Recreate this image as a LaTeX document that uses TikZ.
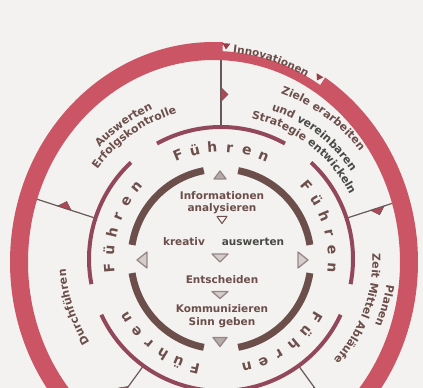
\documentclass[tikz,border=0pt]{standalone}
\usepackage{fontspec}
\setmainfont{DejaVu Sans}
\usetikzlibrary{
    calc, decorations.text
}
\definecolor{paper}{RGB}{243,242,240}
\definecolor{ringred}{RGB}{203,84,101}
\definecolor{midarc}{RGB}{146,72,90}
\definecolor{txtbrown}{RGB}{108,78,74}
\definecolor{slate}{RGB}{72,74,70}
\definecolor{linegrey}{RGB}{105,88,88}
\definecolor{trigrey}{RGB}{150,135,133}
\definecolor{trifill}{RGB}{212,205,203}
\definecolor{innov}{RGB}{150,62,72}
\newcommand{\ringfont}{\bfseries\fontsize{11}{11}\selectfont}
\newcommand{\innfont}{\bfseries\fontsize{10.5}{12}\selectfont}
\tikzset{
  innring/.style={line width=7pt, draw=txtbrown},
  midring/.style={line width=4pt, draw=midarc},
  conn/.style={line width=1.2pt, draw=linegrey},
  flag/.style={fill=ringred!85!black, draw=linegrey, line width=0.6pt},
  fuehr/.style={font=\bfseries\fontsize{14}{14}\selectfont, text=txtbrown,
                inner sep=0pt, anchor=base},
  lbl/.style={font=\innfont, text=txtbrown, inner sep=0pt, align=center},
  tri/.style={draw=trigrey, fill=trifill, line width=1.3pt, line join=round},
  ringtext/.style={decorate, decoration={text along path, text align=center,
                   text={|\color{txtbrown}\ringfont|#1}}},
}

\begin{document}
\begin{tikzpicture}[x=1pt, y=1pt]
  \useasboundingbox (0,0) rectangle (423,388);
  \fill[paper] (0,0) rectangle (423,388);
  \coordinate (C) at (221,129);  % centre of the inner rings
  \coordinate (E) at (214,126);  % centre of the red ring

  % spokes with pennants
  \foreach \a/\e [count=\i] in {90/208,18/195,-54/200,-126/205,162/200} {
    \coordinate (m\i) at ($(C)+(\a:132)$);
    \coordinate (r\i) at ($(C)+(\a:\e)$);
    \draw[conn] (m\i) -- (r\i);
    \filldraw[flag] ($(C)+(\a:157.5)$) -- ($(C)+(\a:171.5)$)
      -- ($(C)+(\a:164.5)+(\a-90:7)$) -- cycle;
  }

  % red ring, thinner where Innovationen sits
  \fill[ringred, even odd rule]
    ($(E)+(87.5:204 and 220)$)
      arc[start angle=87.5, end angle=417, x radius=204, y radius=220]
    -- ($(E)+(57:195 and 211)$)
      arc[start angle=57, end angle=87.5, x radius=195, y radius=211]
    -- cycle
    (E) ellipse[x radius=186, y radius=202];
  \path[decorate, decoration={text along path, text align=center,
        text={|\color{txtbrown}\bfseries\fontsize{10.5}{10.5}\selectfont|Innovationen}}]
    ($(E)+(87:194 and 210)$)
      arc[start angle=87, end angle=59, x radius=194, y radius=210];
  \coordinate (iv1) at ($(E)+(86.5:200 and 216)$);
  \coordinate (iv2) at ($(E)+(58.5:200 and 216)$);
  \fill[innov, shift={(iv1)}, rotate=-4] (-4,3) -- (4,3) -- (0,-3) -- cycle;
  \fill[innov, shift={(iv2)}, rotate=-31] (-4,3) -- (4,3) -- (0,-3) -- cycle;

  % middle ring
  \foreach \a in {90,18,-54,-126,162}
    \draw[midring] ($(C)+(\a+29:132)$)
      arc[start angle=\a+29, end angle=\a-29, radius=132];

  % inner ring
  \foreach \s in {9,101,189,281}
    \draw[innring] ($(C)+(\s:90)$) arc[start angle=\s, end angle=\s+70, radius=90];

  % Fuehren, five times round
  \foreach \a in {90,18,-54,-126,162}
    \foreach \ch [count=\k] in {F,ü,h,r,e,n} {
      \pgfmathsetmacro{\b}{\a+31.5-9*\k}
      \pgfmathsetmacro{\rot}{\b-90}
      \node[fuehr, rotate=\rot] (fu\a-\k) at ($(C)+(\b:107)$) {\ch};
    }

  % phases between the spokes
  \path[ringtext={Auswerten}] ($(C)+(161:164.5)$)
    arc[start angle=161, end angle=91, radius=164.5];
  \path[ringtext={Erfolgskontrolle}] ($(C)+(160.5:152.5)$)
    arc[start angle=160.5, end angle=90.5, radius=152.5];
  \path[ringtext={Ziele erarbeiten}] ($(C)+(89:176)$)
    arc[start angle=89, end angle=19, radius=176];
  \path[ringtext={und |\color{slate}\ringfont|vereinbaren}] ($(C)+(87.6:157)$)
    arc[start angle=87.6, end angle=17.6, radius=157];
  \path[ringtext={Strategie |\color{slate}\ringfont|entwickeln}] ($(C)+(87.2:144)$)
    arc[start angle=87.2, end angle=17.2, radius=144];
  \path[ringtext={Planen}] ($(C)+(19:167.5)$)
    arc[start angle=19, end angle=-51, radius=167.5];
  \path[ringtext={Zeit Mittel Abläufe}] ($(C)+(15:151.5)$)
    arc[start angle=15, end angle=-55, radius=151.5];
  \path[ringtext={Durchführen}] ($(C)+(233:155.5)$)
    arc[start angle=233, end angle=163, radius=155.5];

  % centre texts
  \node[lbl] (info) at (222,185) {Informationen\\analysieren};
  \node[lbl] (krea) at (184,146) {kreativ};
  \node[lbl, text=slate] (ausw) at (253,146) {auswerten};
  \node[lbl] (ents) at (222,108) {Entscheiden};
  \node[lbl, font=\bfseries\fontsize{10.5}{13}\selectfont] (komm) at (222,72)
    {Kommunizieren\\Sinn geben};

  % little triangles
  \coordinate (t1) at (220,213);
  \coordinate (t2) at (222,168);
  \coordinate (t3) at (220,130);
  \coordinate (t4) at (142,128);
  \coordinate (t5) at (303,128);
  \coordinate (t6) at (220,93);
  \coordinate (t7) at (220,46);
  \draw[tri, fill=trigrey!70, shift={(t1)}] (-6,-4) -- (6,-4) -- (0,4) -- cycle;
  \draw[tri, draw=txtbrown, fill=none, line width=1pt, shift={(t2)}]
    (-5,3.5) -- (5,3.5) -- (0,-3.5) -- cycle;
  \draw[tri, shift={(t3)}] (-8,4) -- (8,4) -- (0,-4) -- cycle;
  \draw[tri, shift={(t4)}] (5,-8) -- (5,8) -- (-5,0) -- cycle;
  \draw[tri, shift={(t5)}] (-5,-8) -- (-5,8) -- (5,0) -- cycle;
  \draw[tri, shift={(t6)}] (-8,3.5) -- (8,3.5) -- (0,-3.5) -- cycle;
  \draw[tri, fill=trigrey!70, shift={(t7)}] (-7,4.5) -- (7,4.5) -- (0,-4.5) -- cycle;
\end{tikzpicture}
\end{document}
